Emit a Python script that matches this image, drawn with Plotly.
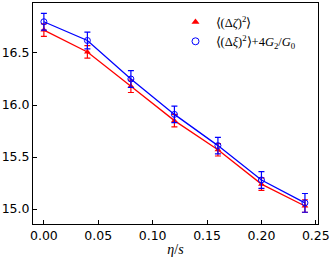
import plotly.graph_objects as go

eta_s = [0.0, 0.04, 0.08, 0.12, 0.16, 0.20, 0.24]
zeta = [16.72, 16.51, 16.18, 15.85, 15.57, 15.24, 15.03]
zeta_err = [0.06, 0.06, 0.06, 0.06, 0.06, 0.06, 0.06]
xi = [16.80, 16.62, 16.25, 15.91, 15.61, 15.28, 15.06]
xi_err = [0.08, 0.08, 0.08, 0.08, 0.08, 0.08, 0.09]

name_zeta = "⟨(Δ<i>ζ</i>)<sup>2</sup>⟩"
name_xi = "⟨(Δ<i>ξ</i>)<sup>2</sup>⟩+4<i>G</i><sub>2</sub>/<i>G</i><sub>0</sub>"

fig = go.Figure()
fig.add_trace(go.Scatter(
    x=eta_s, y=zeta, mode="lines+markers",
    line=dict(color="red", width=1.3),
    marker=dict(symbol="triangle-up", size=6, color="red"),
    error_y=dict(type="data", array=zeta_err, color="red", thickness=1.2, width=3),
    name=name_zeta, showlegend=False))
fig.add_trace(go.Scatter(
    x=eta_s, y=xi, mode="lines+markers",
    line=dict(color="blue", width=1.3),
    marker=dict(symbol="circle-open", size=6, color="blue", line=dict(width=1)),
    error_y=dict(type="data", array=xi_err, color="blue", thickness=1.2, width=3),
    name=name_xi, showlegend=False))
# legend entries
fig.add_trace(go.Scatter(x=[None], y=[None], mode="markers",
    marker=dict(symbol="triangle-up", size=7, color="red"), name=name_zeta))
fig.add_trace(go.Scatter(x=[None], y=[None], mode="markers",
    marker=dict(symbol="circle-open", size=7, color="blue", line=dict(width=1)), name=name_xi))

axis_common = dict(showgrid=False, zeroline=False, showline=True, linecolor="black",
                   linewidth=1, mirror=True, ticks="inside", ticklen=4, tickcolor="black",
                   tickfont=dict(family="DejaVu Sans", size=12.5, color="black"))
fig.update_layout(
    width=332, height=258,
    margin=dict(l=32, r=13, t=2, b=34),
    paper_bgcolor="white", plot_bgcolor="white",
    xaxis=dict(range=[-0.01, 0.252], tickvals=[0, 0.05, 0.1, 0.15, 0.2, 0.25],
               ticktext=["0.00", "0.05", "0.10", "0.15", "0.20", "0.25"],
               title=dict(text="<i>η</i>/<i>s</i>", standoff=2,
                          font=dict(family="Liberation Serif", size=14, color="black")),
               **axis_common),
    yaxis=dict(range=[14.857, 16.98], tickvals=[15.0, 15.5, 16.0, 16.5],
               ticktext=["15.0", "15.5", "16.0", "16.5"], **axis_common),
    legend=dict(x=0.50, y=0.98, xanchor="left", yanchor="top",
                bgcolor="rgba(0,0,0,0)",
                font=dict(family="Liberation Serif", size=12.5, color="black"),
                itemwidth=30, tracegroupgap=0),
)
fig.write_html("out.html", config={"displayModeBar": False},
               post_script="document.body.style.margin='0';")
